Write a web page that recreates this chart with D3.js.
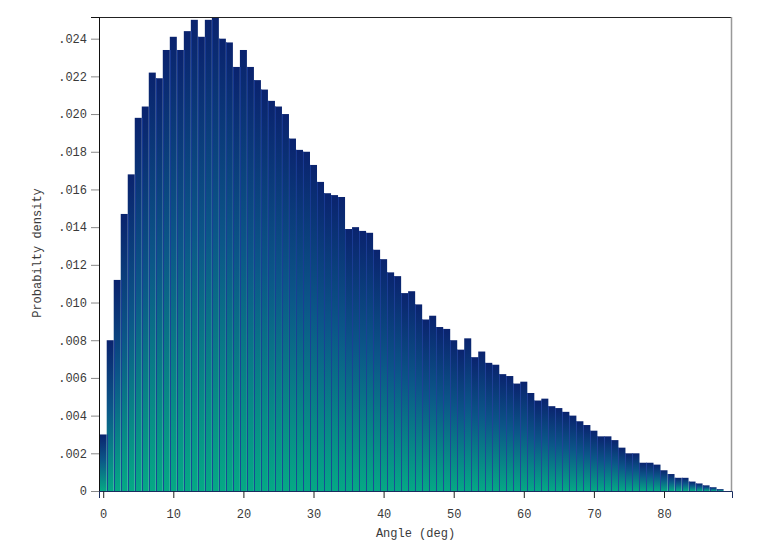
<!DOCTYPE html>
<html>
<head>
<meta charset="utf-8">
<script src="https://cdn.jsdelivr.net/npm/d3@7/dist/d3.min.js"></script>
<style>
  body { margin: 0; background: #fff; }
  text { font-family: "Liberation Mono", "DejaVu Sans Mono", monospace; fill: #3a3a3a; }
</style>
</head>
<body>
<div id="chart"></div>
<script>
// bin centres (deg) and probability density
var angles = d3.range(0, 89);
var density = [
  .0030, .0080, .0112, .0147, .0168, .0198, .0204, .0222, .0219, .0234,
  .0241, .0234, .0244, .0250, .0241, .0250, .0251, .0240, .0238, .0225,
  .0234, .0225, .0218, .0213, .0207, .0204, .0200, .0187, .0181, .0180,
  .0173, .0164, .0158, .0157, .0156, .0139, .0140, .0138, .0137, .0128,
  .0123, .0116, .0114, .0105, .0106, .0099, .0091, .0093, .0087, .0086,
  .0080, .0075, .0081, .0071, .0074, .0068, .0067, .0062, .0061, .0057,
  .0058, .0052, .0048, .0049, .0045, .0044, .0042, .0040, .0037, .0035,
  .0032, .0029, .0029, .0027, .0023, .0020, .0020, .0015, .0015, .0014,
  .0011, .0009, .0007, .0007, .0005, .0004, .0003, .0002, .0001
];
var xTicks = [0, 10, 20, 30, 40, 50, 60, 70, 80];
var yTicks = [0, .002, .004, .006, .008, .010, .012, .014, .016, .018, .020, .022, .024];

var data = angles.map((a, i) => ({ angle: a, value: density[i] }));

var margin = { top: 17, right: 41, bottom: 69, left: 99 },
    width = 773 - margin.left - margin.right,
    height = 560 - margin.top - margin.bottom;

var x = d3.scaleLinear().domain([-0.6, 89.7]).range([0, width]);
var y = d3.scaleLinear().domain([0, 0.02515]).range([height, 0]);

var svg = d3.select("#chart").append("svg")
    .attr("width", 773)
    .attr("height", 560);

var defs = svg.append("defs");
var grad = defs.append("linearGradient")
    .attr("id", "barGrad")
    .attr("x1", 0).attr("y1", 0).attr("x2", 0).attr("y2", 1);
grad.append("stop").attr("offset", "0%").attr("stop-color", "#0a236e");
grad.append("stop").attr("offset", "45%").attr("stop-color", "#0b5688");
grad.append("stop").attr("offset", "100%").attr("stop-color", "#05a985");

defs.append("clipPath").attr("id", "plotClip")
  .append("rect").attr("width", width).attr("height", height);

var g = svg.append("g")
    .attr("transform", "translate(" + margin.left + "," + margin.top + ")");

var plot = g.append("g").attr("clip-path", "url(#plotClip)");

// bars
plot.selectAll("rect.bar")
    .data(data)
    .enter()
    .append("rect")
    .attr("class", "bar")
    .attr("x", d => x(d.angle - 0.5))
    .attr("width", d => x(d.angle + 0.5) - x(d.angle - 0.5))
    .attr("y", d => y(d.value))
    .attr("height", d => height - y(d.value))
    .attr("fill", "url(#barGrad)");

// thin separators between bars
plot.selectAll("line.sep")
    .data(data.slice(1))
    .enter()
    .append("line")
    .attr("class", "sep")
    .attr("x1", d => Math.round(x(d.angle - 0.5)) + 0.5)
    .attr("x2", d => Math.round(x(d.angle - 0.5)) + 0.5)
    .attr("y1", d => y(Math.min(d.value, density[d.angle - 1])))
    .attr("y2", height)
    .attr("stroke", "#1b3c98")
    .attr("stroke-width", 1)
    .attr("opacity", 0.85);

// frame: top black, right grey
g.append("line")
    .attr("x1", 0).attr("x2", width).attr("y1", 0.5).attr("y2", 0.5)
    .attr("stroke", "#222");
g.append("line")
    .attr("x1", width - 0.5).attr("x2", width - 0.5).attr("y1", 0).attr("y2", height)
    .attr("stroke", "#999").attr("stroke-width", 1.5);

// y axis
var yAxis = g.append("g")
    .call(d3.axisLeft(y)
        .tickValues(yTicks)
        .tickSize(8)
        .tickPadding(4)
        .tickFormat(d => d === 0 ? "0" : d3.format(".3f")(d).replace(/^0/, "")));
yAxis.select(".domain").attr("stroke", "#111");
yAxis.selectAll(".tick line").attr("stroke", "#888");
yAxis.selectAll("text").attr("font-size", 12).attr("fill", "#3a3a3a")
    .attr("font-family", "Liberation Mono");

// x axis
var xAxis = g.append("g")
    .attr("transform", "translate(0," + height + ")")
    .call(d3.axisBottom(x)
        .tickValues(xTicks)
        .tickSize(7)
        .tickPadding(11)
        .tickFormat(d3.format("d")));
xAxis.select(".domain").attr("stroke", "#1a2d5e");
xAxis.selectAll(".tick line").attr("stroke", "#222");
xAxis.selectAll("text").attr("font-size", 12).attr("fill", "#3a3a3a")
    .attr("font-family", "Liberation Mono");

// axis titles
g.append("text")
    .attr("x", width / 2)
    .attr("y", height + 46)
    .attr("text-anchor", "middle")
    .attr("font-size", 12)
    .text("Angle (deg)");

g.append("text")
    .attr("transform", "translate(" + (-58) + "," + (height / 2 - 1) + ") rotate(-90)")
    .attr("text-anchor", "middle")
    .attr("font-size", 12)
    .text("Probabilty density");
</script>
</body>
</html>
